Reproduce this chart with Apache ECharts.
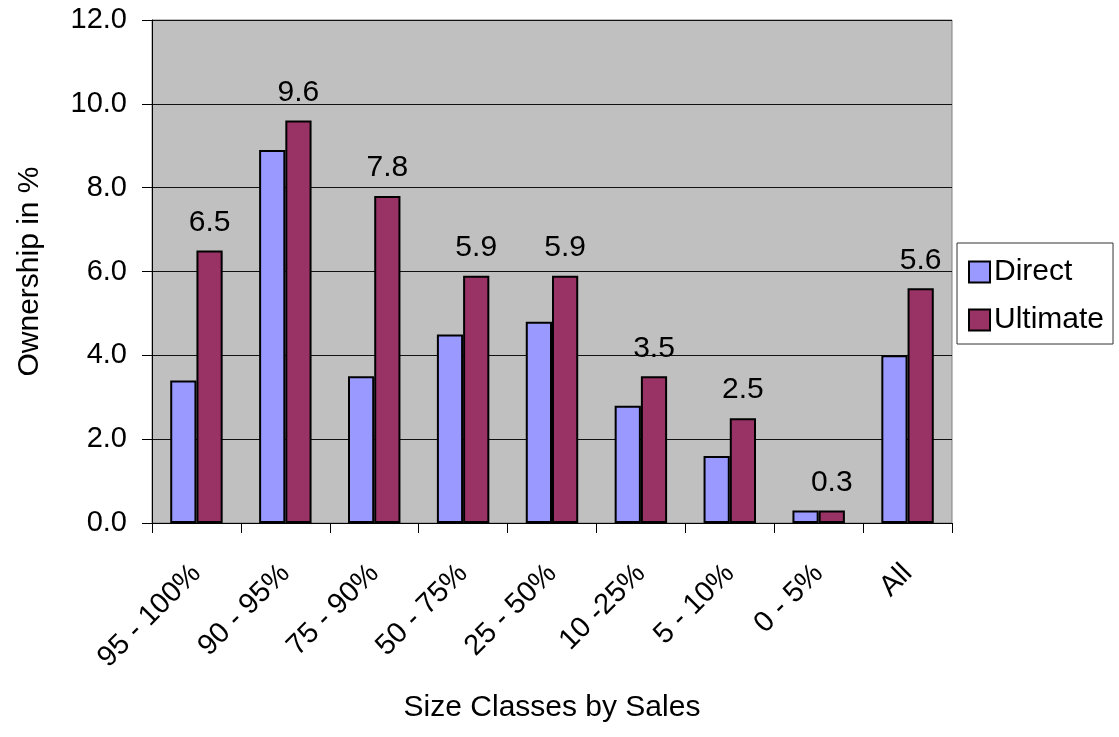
<!DOCTYPE html>
<html>
<head>
<meta charset="utf-8">
<script src="https://cdn.jsdelivr.net/npm/echarts@6/dist/echarts.min.js"></script>
<style>
  html, body { margin: 0; padding: 0; background: #fff; }
  #chart { width: 1119px; height: 737px; }
</style>
</head>
<body>
<div id="chart"></div>
<script>
// Ownership share by firm size class
const categories = ['95 - 100%', '90 - 95%', '75 - 90%', '50 - 75%', '25 - 50%', '10 -25%', '5 - 10%', '0 - 5%', 'All'];
const directValues = [3.4, 8.9, 3.5, 4.5, 4.8, 2.8, 1.6, 0.3, 4.0];
const ultimateValues = [6.5, 9.6, 7.8, 5.9, 5.9, 3.5, 2.5, 0.3, 5.6];
const yTicks = { min: 0, max: 12, interval: 2 };

const FONT = '"Liberation Sans", Arial, sans-serif';
const TICK_SIZE = 29;
const NAME_SIZE = 30;

const chart = echarts.init(document.getElementById('chart'), null, { renderer: 'canvas' });

chart.setOption({
  backgroundColor: '#ffffff',
  animation: false,
  textStyle: { fontFamily: FONT, color: '#000' },
  grid: {
    left: 152, right: 167, top: 20, bottom: 214,
    show: true, backgroundColor: '#C0C0C0', borderColor: '#808080', borderWidth: 1
  },
  legend: {
    orient: 'vertical',
    left: 957, top: 243,
    icon: 'rect',
    itemWidth: 21, itemHeight: 21, itemGap: 18,
    padding: [14, 9, 9, 11],
    backgroundColor: '#fff', borderColor: '#333', borderWidth: 1,
    textStyle: { fontFamily: FONT, fontSize: NAME_SIZE, color: '#000', padding: [0, 0, 0, -1] },
    data: ['Direct', 'Ultimate']
  },
  xAxis: {
    type: 'category',
    data: categories,
    name: 'Size Classes by Sales',
    nameLocation: 'middle',
    nameGap: 170,
    nameTextStyle: { fontFamily: FONT, fontSize: NAME_SIZE, color: '#000' },
    axisLine: { lineStyle: { color: '#000', width: 1 } },
    axisTick: { show: true, length: 10, lineStyle: { color: '#000' } },
    axisLabel: { rotate: 45, fontFamily: FONT, fontSize: TICK_SIZE, color: '#000', margin: 46 }
  },
  yAxis: {
    type: 'value',
    min: yTicks.min, max: yTicks.max, interval: yTicks.interval,
    name: 'Ownership in %',
    nameLocation: 'middle',
    nameGap: 107,
    nameTextStyle: { fontFamily: FONT, fontSize: NAME_SIZE, color: '#000' },
    axisLine: { show: true, lineStyle: { color: '#000', width: 1 } },
    axisTick: { show: true, length: 10, lineStyle: { color: '#000' } },
    axisLabel: { fontFamily: FONT, fontSize: TICK_SIZE, color: '#000', margin: 25,
      formatter: v => v.toFixed(1) },
    splitLine: { show: true, lineStyle: { color: '#111', width: 1 } }
  },
  series: [
    {
      name: 'Direct', type: 'bar', data: directValues,
      barGap: '0%', barCategoryGap: '41%',
      itemStyle: { color: '#9999FF', borderColor: '#000', borderWidth: 2 }
    },
    {
      name: 'Ultimate', type: 'bar', data: ultimateValues,
      barGap: '0%', barCategoryGap: '41%',
      itemStyle: { color: '#993366', borderColor: '#000', borderWidth: 2 },
      label: {
        show: true, position: 'top', distance: 13,
        fontFamily: FONT, fontSize: NAME_SIZE, color: '#000',
        formatter: p => p.value.toFixed(1)
      }
    }
  ]
});
</script>
</body>
</html>
